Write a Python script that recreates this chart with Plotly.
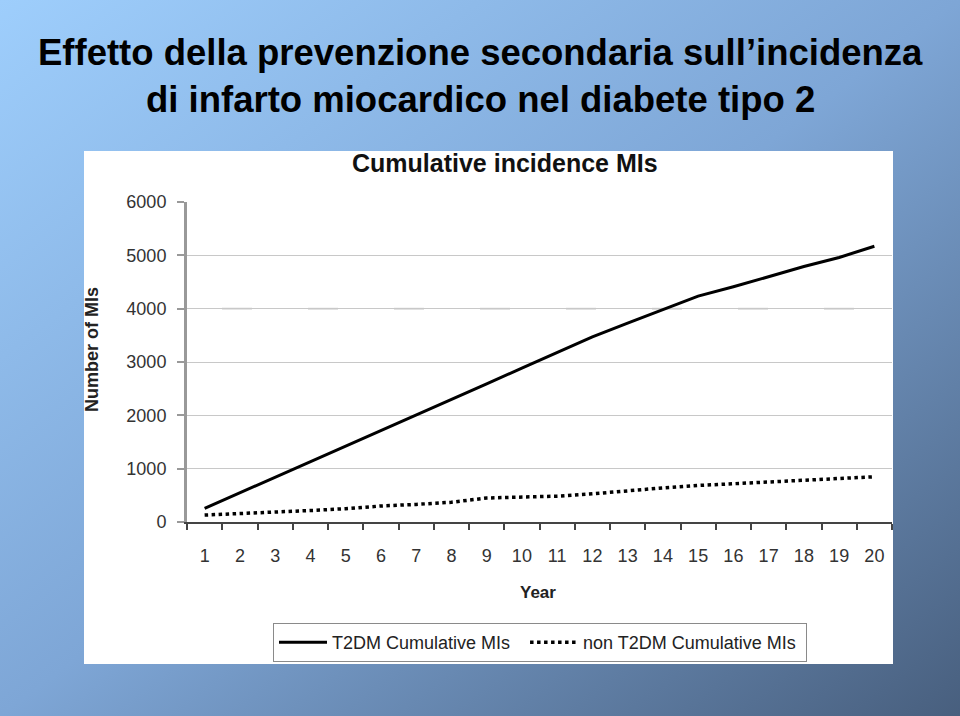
import base64
import plotly.graph_objects as go

# ---- data ----
years = [str(y) for y in range(1, 21)]
t2dm_mis = [255, 545, 835, 1125, 1415, 1710, 2000, 2295, 2590, 2885,
            3180, 3470, 3730, 3990, 4235, 4410, 4600, 4790, 4960, 5170]
non_t2dm_mis = [130, 155, 185, 215, 250, 300, 330, 370, 450, 465,
                485, 528, 590, 640, 685, 715, 745, 785, 815, 848]
y_ticks = [0, 1000, 2000, 3000, 4000, 5000, 6000]

main_title_1 = "Effetto della prevenzione secondaria sull\u2019incidenza"
main_title_2 = "di infarto miocardico nel diabete tipo 2"
chart_title = "Cumulative incidence MIs"
x_title = "Year"
y_title = "Number of MIs"
series_names = ["T2DM Cumulative MIs", "non T2DM Cumulative MIs"]

# ---- layout helpers (pixel -> paper) ----
W, H = 960, 716
L, R, T, B = 187, 892, 202, 522


def px(x):
    return (x - L) / (R - L)


def py(y):
    return (B - y) / (B - T)


svg = (
    "<svg xmlns='http://www.w3.org/2000/svg' width='960' height='716'>"
    "<defs><linearGradient id='g' x1='0' y1='0' x2='1' y2='1'>"
    "<stop offset='0' stop-color='#9ECEFC'/>"
    "<stop offset='0.5' stop-color='#7EA6D6'/>"
    "<stop offset='1' stop-color='#485F7E'/>"
    "</linearGradient></defs>"
    "<rect width='960' height='716' fill='url(#g)'/></svg>"
)
bg_src = "data:image/svg+xml;base64," + base64.b64encode(svg.encode()).decode()

NB = "\u00a0"
fig = go.Figure()
fig.add_trace(go.Scatter(
    x=years, y=t2dm_mis, mode="lines", name=series_names[0] + NB * 2,
    line=dict(color="#000000", width=3),
))
fig.add_trace(go.Scatter(
    x=years, y=non_t2dm_mis, mode="lines", name=series_names[1] + NB,
    line=dict(color="#000000", width=3.5, dash="dot"),
))

tick_font = dict(family="Liberation Sans, Arial, sans-serif", size=18, color="#333333")

fig.update_layout(
    width=W, height=H,
    margin=dict(l=L, r=W - R, t=T, b=H - B, pad=0),
    paper_bgcolor="#7EA6D6",
    plot_bgcolor="rgba(0,0,0,0)",
    showlegend=True,
    legend=dict(
        orientation="h", x=px(273), y=py(623), xanchor="left", yanchor="top",
        bgcolor="#FFFFFF", bordercolor="#8A8A8A", borderwidth=1,
        font=dict(family="Liberation Sans, Arial, sans-serif", size=18, color="#222222"),
        itemwidth=48, tracegroupgap=0,
    ),
    xaxis=dict(
        type="category", range=[-0.5, 19.5], tickson="boundaries",
        showgrid=False, showline=True, linecolor="#444444", linewidth=2,
        ticks="outside", ticklen=6, tickcolor="#444444", tickwidth=2,
        tickfont=tick_font, ticklabelstandoff=16, zeroline=False,
    ),
    yaxis=dict(
        range=[0, 6000], tickvals=y_ticks,
        showgrid=True, gridcolor="#C8C8C8", gridwidth=1,
        showline=True, linecolor="#999999", linewidth=3,
        ticks="outside", ticklen=7, tickcolor="#999999", tickwidth=2,
        tickfont=tick_font, ticklabelstandoff=7, zeroline=False,
    ),
    images=[dict(
        source=bg_src, xref="paper", yref="paper",
        x=px(0), y=py(0), sizex=W / (R - L), sizey=H / (B - T),
        xanchor="left", yanchor="top", sizing="stretch", layer="below",
    )],
    shapes=[
        dict(type="rect", xref="paper", yref="paper",
             x0=px(84), x1=px(893), y0=py(664), y1=py(151),
             fillcolor="#FFFFFF", line=dict(width=0), layer="below"),
        # 4000 gridline is only faintly drawn in the source
        dict(type="line", xref="paper", yref="y", x0=0.002, x1=1, y0=4000, y1=4000,
             line=dict(color="#FFFFFF", width=2), layer="between"),
        dict(type="line", xref="paper", yref="y", x0=px(222), x1=1, y0=4000, y1=4000,
             line=dict(color="#D8D8D8", width=2, dash="30px,56px"), layer="between"),
    ],
    annotations=[
        dict(text="<b>" + main_title_1 + "</b>", xref="paper", yref="paper",
             x=px(480), y=py(52), showarrow=False, xanchor="center", yanchor="middle",
             font=dict(family="Liberation Sans, Arial, sans-serif",
                       size=36.5, color="#000000")),
        dict(text="<b>" + main_title_2 + "</b>", xref="paper", yref="paper",
             x=px(480), y=py(100), showarrow=False, xanchor="center", yanchor="middle",
             font=dict(family="Liberation Sans, Arial, sans-serif",
                       size=36.5, color="#000000")),
        dict(text="<b>" + chart_title + "</b>", xref="paper", yref="paper",
             x=px(505), y=py(163), showarrow=False, xanchor="center", yanchor="middle",
             font=dict(family="Liberation Sans, Arial, sans-serif", size=25, color="#111111")),
        dict(text="<b>" + x_title + "</b>", xref="paper", yref="paper",
             x=px(538), y=py(592), showarrow=False, xanchor="center", yanchor="middle",
             font=dict(family="Liberation Sans, Arial, sans-serif", size=17, color="#222222")),
        dict(text="<b>" + y_title + "</b>", xref="paper", yref="paper",
             x=px(92), y=py(350), showarrow=False, xanchor="center", yanchor="middle",
             textangle=-90,
             font=dict(family="Liberation Sans, Arial, sans-serif", size=18, color="#222222")),
    ],
)

fig.write_html("out.html")
